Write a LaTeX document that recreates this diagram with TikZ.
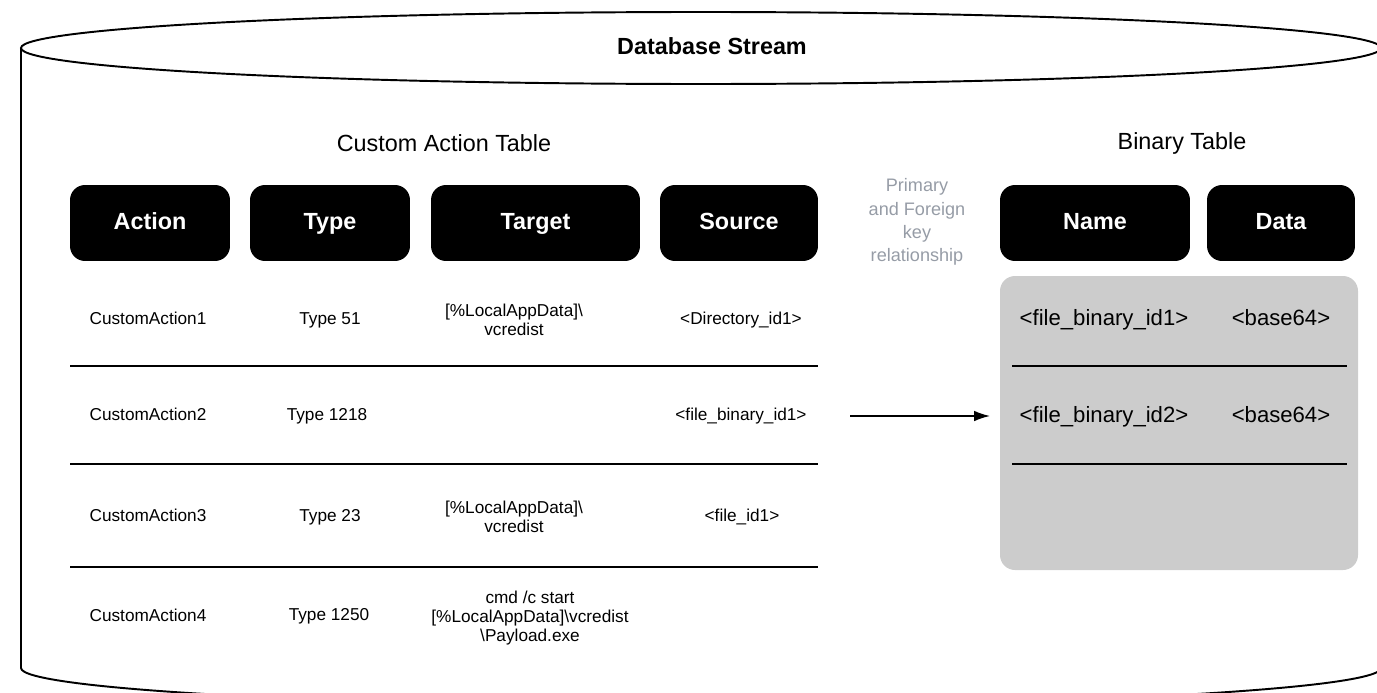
\documentclass[tikz,border=0pt]{standalone}
\usepackage{fontspec}
\setmainfont{Liberation Sans}
\usetikzlibrary{arrows.meta}
\definecolor{keygray}{RGB}{150,156,166}
\definecolor{panelgray}{RGB}{204,204,204}
\tikzset{
  head/.style={fill=black, text=white, rounded corners=0.3cm, minimum height=1.52cm,
    inner sep=0pt, text height=9.6pt, text depth=2.6pt,
    font=\fontsize{13.3}{16}\selectfont\bfseries},
  cell/.style={align=center, inner sep=1pt, font=\fontsize{9.8}{10.9}\selectfont},
  onecell/.style={cell, text height=7.1pt, text depth=2.2pt},
  bincell/.style={inner sep=1pt, text height=9.2pt, text depth=2.8pt,
    font=\fontsize{12.6}{15}\selectfont},
  title/.style={inner sep=1pt, font=\fontsize{13.3}{16}\selectfont},
  rowline/.style={line width=1.4pt},
  outline/.style={line width=1.1pt},
  link/.style={line width=0.9pt, -{Latex[length=9pt,width=6pt]}}
}
\begin{document}
\begin{tikzpicture}[x=0.02cm, y=-0.02cm]
\useasboundingbox (0,0) rectangle (1377,693);
\clip (0,0) rectangle (1377,693);

% database cylinder
\draw[outline] (701,48) ellipse [x radius=680, y radius=36];
\draw[outline] (21,48) -- (21,668) arc[start angle=180, end angle=0, x radius=680, y radius=38] -- (1381,48);
\node[title, font=\fontsize{13.3}{16}\selectfont\bfseries] (db) at (712,46) {Database Stream};

% table titles
\node[title] (catitle) at (444,143) {Custom Action Table};
\node[title] (bintitle) at (1182,143) {Binary Table};

% custom action table header
\node[head, minimum width=3.2cm]  (hAction) at (150,223) {Action};
\node[head, minimum width=3.2cm]  (hType)   at (330,223) {Type};
\node[head, minimum width=4.18cm] (hTarget) at (535.5,223) {Target};
\node[head, minimum width=3.16cm] (hSource) at (739,223) {Source};

% binary table header
\node[head, minimum width=3.8cm]  (hName) at (1095,223) {Name};
\node[head, minimum width=2.96cm] (hData) at (1281,223) {Data};

% key relationship note
\node[align=center, inner sep=1pt, text=keygray, font=\fontsize{10.3}{13.2}\selectfont]
  (keynote) at (917,222) {Primary\\and Foreign\\key\\relationship};

% binary table panel
\fill[panelgray, rounded corners=0.3cm] (1000,276) rectangle (1358,570);
\node[bincell] (fb1) at (1104,320) {<file\_binary\_id1>};
\node[bincell] (b641) at (1281,320) {<base64>};
\node[bincell] (fb2) at (1104,417) {<file\_binary\_id2>};
\node[bincell] (b642) at (1281,417) {<base64>};
\coordinate (bl1a) at (1012,366); \coordinate (bl1b) at (1347,366);
\coordinate (bl2a) at (1012,464); \coordinate (bl2b) at (1347,464);
\draw[rowline] (bl1a) -- (bl1b);
\draw[rowline] (bl2a) -- (bl2b);

% custom action rows
\node[onecell] (a1) at (148,320) {CustomAction1};
\node[onecell] (t1) at (330,320) {Type 51};
\node[cell] (g1) at (514,320) {[\%LocalAppData]\textbackslash\\vcredist};
\node[onecell] (s1) at (741,320) {<Directory\_id1>};

\node[onecell] (a2) at (148,416) {CustomAction2};
\node[onecell] (t2) at (327,416) {Type 1218};
\node[onecell] (s2) at (741,416) {<file\_binary\_id1>};

\node[onecell] (a3) at (148,517) {CustomAction3};
\node[onecell] (t3) at (330,517) {Type 23};
\node[cell] (g3) at (514,517) {[\%LocalAppData]\textbackslash\\vcredist};
\node[onecell] (s3) at (742,517) {<file\_id1>};

\node[onecell] (a4) at (148,617) {CustomAction4};
\node[onecell] (t4) at (329,616) {Type 1250};
\node[cell] (g4) at (530,618) {cmd /c start\\{}[\%LocalAppData]\textbackslash vcredist\\\textbackslash Payload.exe};

\coordinate (l1a) at (70,366); \coordinate (l1b) at (818,366);
\coordinate (l2a) at (70,464); \coordinate (l2b) at (818,464);
\coordinate (l3a) at (70,567); \coordinate (l3b) at (818,567);
\draw[rowline] (l1a) -- (l1b);
\draw[rowline] (l2a) -- (l2b);
\draw[rowline] (l3a) -- (l3b);

% foreign key link
\coordinate (linkstart) at (850,416);
\coordinate (linkend) at (990,416);
\draw[link] (linkstart) -- (linkend);
\end{tikzpicture}
\end{document}
